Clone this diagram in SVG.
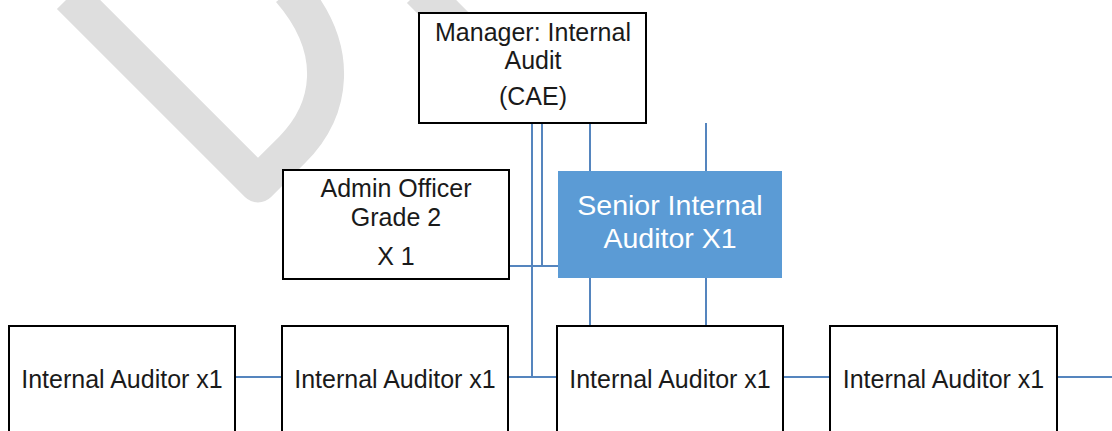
<svg xmlns="http://www.w3.org/2000/svg" width="1112" height="431" viewBox="0 0 1112 431">
  <style>
    .box { fill: #ffffff; stroke: #000000; stroke-width: 2; }
    .hl { fill: #5B9BD5; stroke: none; }
    .lbl { font-family: "Liberation Sans", Arial, sans-serif; font-size: 25px; fill: #1a1a1a; text-anchor: middle; }
    .lbl-hl { font-family: "Liberation Sans", Arial, sans-serif; font-size: 28.5px; fill: #ffffff; text-anchor: middle; }
    .conn { stroke: #5585BE; stroke-width: 2; fill: none; }
    .wm { stroke: #DEDEDE; stroke-width: 37; fill: none; stroke-linejoin: round; }
  </style>

  <!-- watermark strokes -->
  <g id="watermark">
    <path class="wm" d="M 70,-4 L 258,184 L 292,150 C 332,110 342,50 290,-10"/>
    <path class="wm" d="M 420,-10 L 480,50"/>
  </g>

  <!-- connectors -->
  <g id="connectors">
    <line class="conn" x1="532" y1="123" x2="532" y2="377"/>
    <line class="conn" x1="542" y1="123" x2="542" y2="266"/>
    <line class="conn" x1="509" y1="266" x2="558" y2="266"/>
    <line class="conn" x1="590" y1="123" x2="590" y2="171"/>
    <line class="conn" x1="706" y1="123" x2="706" y2="171"/>
    <line class="conn" x1="590" y1="278" x2="590" y2="326"/>
    <line class="conn" x1="706" y1="278" x2="706" y2="326"/>
    <line class="conn" x1="235" y1="377" x2="282" y2="377"/>
    <line class="conn" x1="508" y1="377" x2="557" y2="377"/>
    <line class="conn" x1="783" y1="377" x2="830" y2="377"/>
    <line class="conn" x1="1057" y1="377" x2="1112" y2="377"/>
  </g>

  <g id="manager">
    <rect class="box" x="419" y="13" width="227" height="110"/>
    <text class="lbl" x="533" y="41">Manager: Internal</text>
    <text class="lbl" x="533" y="69">Audit</text>
    <text class="lbl" x="533" y="105">(CAE)</text>
  </g>

  <g id="admin-officer">
    <rect class="box" x="283" y="170" width="226" height="109"/>
    <text class="lbl" x="396" y="197">Admin Officer</text>
    <text class="lbl" x="396" y="226">Grade 2</text>
    <text class="lbl" x="396" y="265">X 1</text>
  </g>

  <g id="senior-auditor">
    <rect class="hl" x="558" y="171" width="224" height="107"/>
    <text class="lbl-hl" x="670" y="215">Senior Internal</text>
    <text class="lbl-hl" x="670" y="248">Auditor X1</text>
  </g>

  <g id="auditor-1">
    <rect class="box" x="9" y="326" width="226" height="120"/>
    <text class="lbl" x="122" y="388">Internal Auditor x1</text>
  </g>

  <g id="auditor-2">
    <rect class="box" x="282" y="326" width="226" height="120"/>
    <text class="lbl" x="395" y="388">Internal Auditor x1</text>
  </g>

  <g id="auditor-3">
    <rect class="box" x="557" y="326" width="226" height="120"/>
    <text class="lbl" x="670" y="388">Internal Auditor x1</text>
  </g>

  <g id="auditor-4">
    <rect class="box" x="830" y="326" width="227" height="120"/>
    <text class="lbl" x="943.5" y="388">Internal Auditor x1</text>
  </g>
</svg>
